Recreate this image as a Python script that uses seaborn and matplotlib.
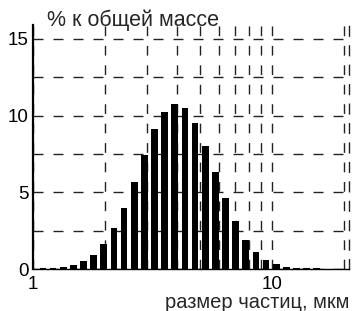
"""
Particle size distribution (mass %) on a log size axis.
"""

import matplotlib

matplotlib.use("Agg")

import matplotlib.pyplot as plt
import numpy as np
import seaborn as sns
from matplotlib.ticker import FixedLocator, NullFormatter, FixedFormatter

# bin centres, micrometres
sizes = [1.10, 1.21, 1.36, 1.50, 1.65, 1.82, 2.00, 2.20, 2.43, 2.67,
         2.94, 3.24, 3.57, 3.93, 4.33, 4.81, 5.30, 5.89, 6.48, 7.14,
         7.78, 8.65, 9.53, 10.5, 11.6, 12.7, 14.0, 15.4, 17.0, 18.7]
# percent of total mass
mass_pct = [0.05, 0.08, 0.15, 0.25, 0.5, 0.9, 1.6, 2.65, 4.0, 5.65,
            7.45, 9.1, 10.25, 10.75, 10.5, 9.5, 8.0, 6.3, 4.6, 3.1,
            1.9, 1.1, 0.6, 0.3, 0.12, 0.06, 0.05, 0.04, 0.03, 0.02]

x_major = [1, 10]
x_minor = [2, 3, 4, 5, 6, 7, 8, 9, 20]
y_major = [0, 5, 10, 15]
y_minor = [2.5, 7.5, 12.5]

sns.set_style("white")
plt.rcParams["font.family"] = ["Liberation Sans", "DejaVu Sans"]

fig = plt.figure(figsize=(3.53, 3.11), dpi=100)
ax = fig.add_axes([33 / 353, 42 / 311, 316 / 353, 244 / 311])

# bins are equal in log space, centred on the size values
lo, hi = np.log10(sizes[0]), np.log10(sizes[-1])
step = (hi - lo) / (len(sizes) - 1)
sns.histplot(
    x=sizes,
    weights=mass_pct,
    bins=len(sizes),
    binrange=(lo - step / 2, hi + step / 2),
    log_scale=True,
    shrink=0.66,
    color="black",
    edgecolor="none",
    alpha=1,
    ax=ax,
    zorder=3,
)

ax.set_xlim(1, 21)
ax.set_ylim(0, 15.9)

ax.xaxis.set_major_locator(FixedLocator(x_major))
ax.xaxis.set_major_formatter(FixedFormatter([str(v) for v in x_major]))
ax.xaxis.set_minor_locator(FixedLocator(x_minor))
ax.xaxis.set_minor_formatter(NullFormatter())
ax.yaxis.set_major_locator(FixedLocator(y_major))
ax.yaxis.set_minor_locator(FixedLocator(y_minor))

ax.grid(which="both", axis="y", color="#222222", linewidth=1.0,
        linestyle=(0, (7.2, 7.2)))
ax.grid(which="both", axis="x", color="#222222", linewidth=1.0,
        linestyle=(0, (7, 7)))
ax.set_axisbelow(True)

ax.tick_params(which="both", length=0, labelsize=13.5, colors="black")
ax.tick_params(axis="y", pad=3)
ax.tick_params(axis="x", pad=5)

ax.set_xlabel("")
ax.set_ylabel("")
fig.text(47 / 353, 1 - 20 / 311, "% к общей массе", fontsize=15.5,
         ha="left", va="center")
fig.text(349 / 353, 1 - 303 / 311, "размер частиц, мкм", fontsize=14.5,
         ha="right", va="center")

ax.spines["top"].set_visible(False)
ax.spines["left"].set_linewidth(1.6)
ax.spines["left"].set_color("black")
ax.spines["bottom"].set_linewidth(1.0)
ax.spines["bottom"].set_color("black")
ax.spines["right"].set_linewidth(1.0)
ax.spines["right"].set_color("#222222")
ax.spines["right"].set_linestyle((0, (7, 7)))

fig.savefig("out.png", dpi=100)
